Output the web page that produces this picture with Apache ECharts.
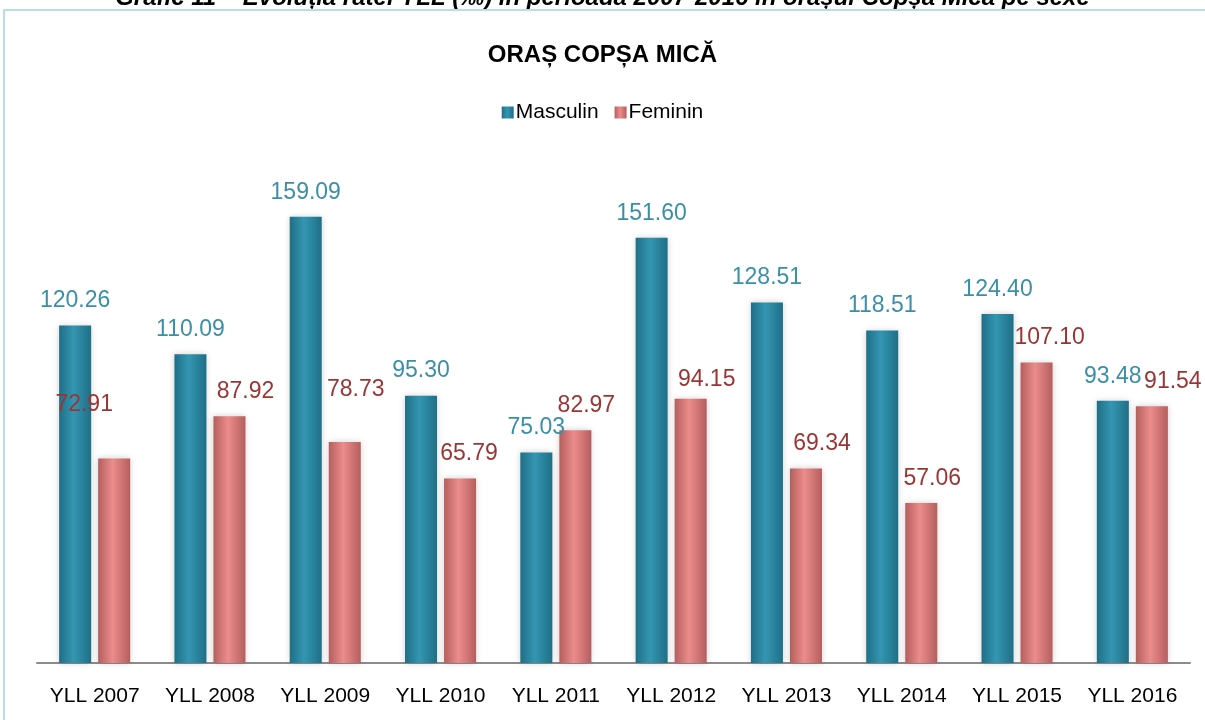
<!DOCTYPE html>
<html>
<head>
<meta charset="utf-8">
<script src="https://cdn.jsdelivr.net/npm/echarts@6/dist/echarts.min.js"></script>
<style>
html, body { margin: 0; padding: 0; background: #fff; }
#main { width: 1205px; height: 720px; }
</style>
</head>
<body>
<div id="main"></div>
<script>
var categories = ['YLL 2007', 'YLL 2008', 'YLL 2009', 'YLL 2010', 'YLL 2011', 'YLL 2012', 'YLL 2013', 'YLL 2014', 'YLL 2015', 'YLL 2016'];
var masculin = [120.26, 110.09, 159.09, 95.30, 75.03, 151.60, 128.51, 118.51, 124.40, 93.48];
var feminin = [72.91, 87.92, 78.73, 65.79, 82.97, 94.15, 69.34, 57.06, 107.10, 91.54];

// feminin labels sit off-centre in the original, nudges per bar
var femDx = [-30, 16, 11, 9, 11, 16, 16, 11, 13, 21];
var femDy = { 0: -29, 2: -28, 5: 5 };

var FONT = '"Liberation Sans", Arial, sans-serif';

var chart = echarts.init(document.getElementById('main'));

function cylinder(edge, mid) {
    return new echarts.graphic.LinearGradient(0, 0, 1, 0, [
        { offset: 0, color: edge },
        { offset: 0.45, color: mid },
        { offset: 1, color: edge }
    ]);
}

var femData = feminin.map(function (v, i) {
    return { value: v, label: { offset: [femDx[i], femDy[i] || 0] } };
});

var option = {
    backgroundColor: '#fff',
    animation: false,
    title: {
        text: 'ORAȘ COPȘA MICĂ',
        left: 'center',
        top: 38,
        textStyle: { fontFamily: FONT, fontSize: 24, fontWeight: 'bold', color: '#000' }
    },
    legend: {
        top: 97,
        left: 'center',
        itemWidth: 12,
        itemHeight: 12,
        itemGap: 16,
        icon: 'rect',
        textStyle: { fontFamily: FONT, fontSize: 21, color: '#000', padding: [0, 0, 0, -3] },
        data: ['Masculin', 'Feminin']
    },
    graphic: [
        {
            type: 'text',
            left: 'center',
            top: -14,
            style: {
                text: 'Grafic 11 – Evoluția ratei YLL (‰) în perioada 2007-2016 în orașul Copșa Mică pe sexe',
                font: 'italic bold 24px "Liberation Sans"',
                fill: '#000'
            }
        },
        {
            type: 'rect',
            shape: { x: 4, y: 10, width: 1210, height: 720 },
            style: { fill: 'none', stroke: '#B7DDE8', lineWidth: 2 }
        }
    ],
    grid: {
        left: 37,
        right: 15,
        top: 158,
        bottom: 57
    },
    xAxis: {
        type: 'category',
        data: categories,
        axisLine: { lineStyle: { color: '#8c8c8c', width: 2 } },
        axisTick: { show: false },
        axisLabel: { interval: 0, fontFamily: FONT, fontSize: 21, color: '#000', margin: 23 }
    },
    yAxis: {
        type: 'value',
        min: 0,
        max: 180,
        show: false,
        splitLine: { show: false }
    },
    series: [
        {
            name: 'Masculin',
            type: 'bar',
            barWidth: 32,
            barGap: '22%',
            data: masculin,
            itemStyle: {
                color: cylinder('#1F6F86', '#3496B2'),
                shadowColor: 'rgba(0,0,0,0.18)',
                shadowBlur: 6
            },
            label: {
                show: true,
                position: 'top',
                distance: 13,
                fontFamily: FONT,
                fontSize: 23,
                color: '#3A8FA8',
                formatter: function (p) { return p.value.toFixed(2); }
            }
        },
        {
            name: 'Feminin',
            type: 'bar',
            barWidth: 32,
            data: femData,
            itemStyle: {
                color: cylinder('#B55E5E', '#EC8C8C'),
                shadowColor: 'rgba(0,0,0,0.18)',
                shadowBlur: 6
            },
            label: {
                show: true,
                position: 'top',
                distance: 13,
                fontFamily: FONT,
                fontSize: 23,
                color: '#9B3535',
                formatter: function (p) { return p.value.toFixed(2); }
            }
        }
    ]
};
option && chart.setOption(option);
</script>
</body>
</html>
